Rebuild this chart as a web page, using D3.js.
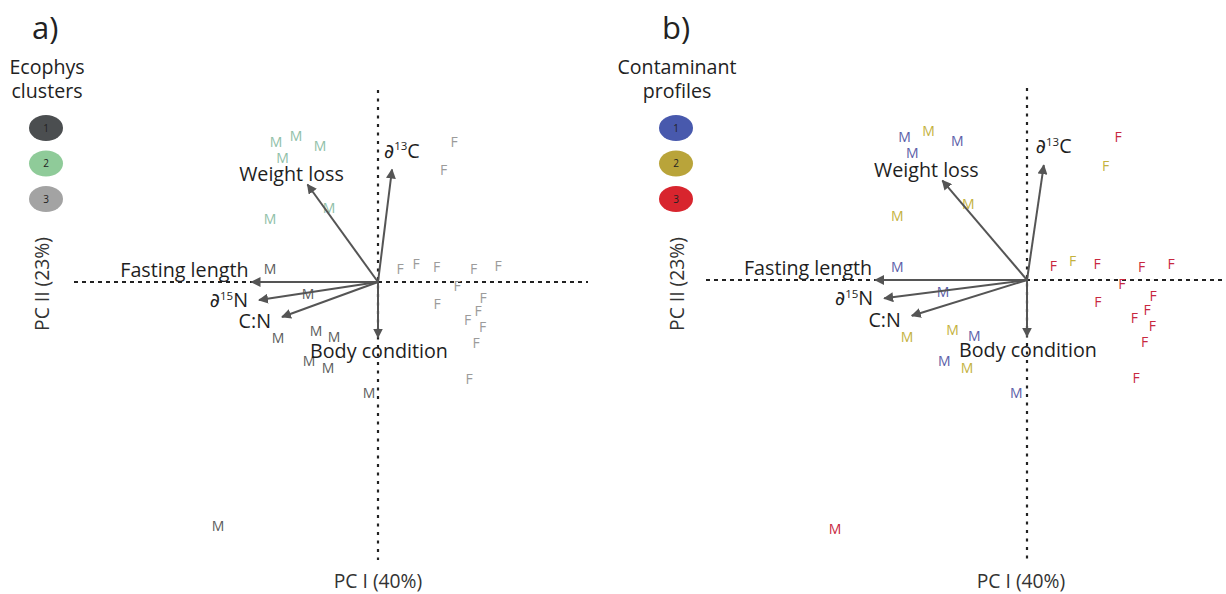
<!DOCTYPE html>
<html>
<head>
<meta charset="utf-8">
<script src="https://cdn.jsdelivr.net/npm/d3@7"></script>
<style>
  html, body { margin: 0; padding: 0; background: #fff; }
  svg { display: block; font-family: "Open Sans", "Noto Sans", sans-serif; }
</style>
</head>
<body>
<svg id="chart" width="1226" height="594"></svg>
<script>
// ---------------- DATA ----------------
// PCA scores (PC I, PC II) for each individual, sex label
const sampleSex = ["M","M","M","M","M","M","M","M","M","M","M","M","M","M","M",
                   "F","F","F","F","F","F","F","F","F","F","F","F","F","F","F"];
const pc1 = [-1.02,-0.82,-0.58,-0.955,-1.08,-0.49,-1.08,-0.70,-1.00,-0.62,-0.44,-0.69,-0.50,-0.09,-1.60,
             0.76,0.655,0.22,0.38,0.585,0.955,1.20,0.79,1.05,0.59,1.00,0.895,1.045,0.98,0.91];
const pc2 = [1.40,1.46,1.36,1.24,0.63,0.745,0.13,-0.12,-0.56,-0.49,-0.55,-0.79,-0.86,-1.11,-2.44,
             1.40,1.12,0.135,0.185,0.155,0.13,0.16,-0.035,-0.155,-0.22,-0.29,-0.375,-0.45,-0.605,-0.965];
// group memberships
const ecophysCluster     = [2,2,2,2,2,2,1,1,1,1,1,1,1,1,1, 3,3,3,3,3,3,3,3,3,3,3,3,3,3,3];
const contaminantProfile = [1,2,1,1,2,2,1,1,2,2,1,1,2,1,3, 3,2,3,2,3,3,3,3,3,3,3,3,3,3,3];

// variable loadings
const varNames = ["d13C","Weight loss","Fasting length","d15N","C:N","Body condition"];
const loadX = [0.14,-0.705,-1.265,-1.19,-0.96,0.0];
const loadY = [1.125,0.975,0.0,-0.18,-0.35,-0.555];

// legend / text
const legendGroups = [1,2,3];
const axisTitleX = "PC I (40%)";
const axisTitleY = "PC II (23%)";

// ---------------- STYLE / LAYOUT ----------------
const clusterLegendColor = {1:"#4b4e50", 2:"#8fcb99", 3:"#a3a3a3"};
const clusterTextColor   = {1:"#5c5c5c", 2:"#8fc0a8", 3:"#9b9b9b"};
const profileLegendColor = {1:"#4859ad", 2:"#b9a43a", 3:"#d8252e"};
const profileTextColor   = {1:"#5b60a8", 2:"#c4b23e", 3:"#c8283f"};

// label placement relative to arrow tip: [dx, dy, anchor]
const labelOffset = {
  "d13C": [-8,-12,"start"],
  "Weight loss": [-16,-4,"middle"],
  "Fasting length": [-3,-5,"end"],
  "d15N": [-11,7,"end"],
  "C:N": [-11,11,"end"],
  "Body condition": [1,20,"middle"]
};

const svg = d3.select("#chart");
const defs = svg.append("defs");
defs.append("marker")
  .attr("id","arr").attr("viewBox","0 0 10 10").attr("refX",9).attr("refY",5)
  .attr("markerWidth",5).attr("markerHeight",5).attr("orient","auto")
  .append("path").attr("d","M0,0L10,5L0,10z").attr("fill","#555");

const panels = [
  { title:"a)", titleX:32, legendTitle:["Ecophys","clusters"], legendX:47,
    groups: ecophysCluster, legendColor: clusterLegendColor, textColor: clusterTextColor,
    x: d3.scaleLinear().domain([-3.04, 2.10]).range([74, 588]),
    y: d3.scaleLinear().domain([1.92, -2.78]).range([90, 560]),
    pcYx: 43, pcXx: 378 },
  { title:"b)", titleX:662, legendTitle:["Contaminant","profiles"], legendX:677,
    groups: contaminantProfile, legendColor: profileLegendColor, textColor: profileTextColor,
    x: d3.scaleLinear().domain([-2.675, 1.625]).range([706, 1222]),
    y: d3.scaleLinear().domain([1.882, -2.745]).range([88, 560]),
    pcYx: 678, pcXx: 1021 }
];

function varLabel(sel, name) {
  if (name === "d13C" || name === "d15N") {
    const sup = name === "d13C" ? "13" : "15";
    const base = name === "d13C" ? "C" : "N";
    sel.append("tspan").attr("font-family", "DejaVu Sans").text("\u2202");
    sel.append("tspan").attr("font-size", 11.5).attr("dy", -7.5).text(sup);
    sel.append("tspan").attr("dy", 7.5).text(base);
  } else {
    sel.text(name);
  }
}

panels.forEach(p => {
  const g = svg.append("g");
  const x = p.x, y = p.y;
  const x0 = x(0), y0 = y(0);

  // title
  g.append("text").attr("x", p.titleX).attr("y", 39).attr("font-size", 31)
    .attr("fill", "#222").text(p.title);

  // legend title
  p.legendTitle.forEach((t, i) => {
    g.append("text").attr("x", p.legendX).attr("y", 74 + i * 24)
      .attr("text-anchor", "middle").attr("font-size", 19.6).attr("fill", "#222").text(t);
  });
  // legend ellipses
  const lg = g.selectAll("g.leg").data(legendGroups).join("g");
  lg.append("ellipse").attr("cx", p.legendX - 1).attr("cy", (d, i) => 128 + i * 35.5)
    .attr("rx", 17).attr("ry", 13).attr("fill", d => p.legendColor[d]);
  lg.append("text").attr("x", p.legendX - 1).attr("y", (d, i) => 128 + i * 35.5 + 3.5)
    .attr("text-anchor", "middle").attr("font-size", 10).attr("fill", "#222").text(d => d);

  // axes lines through origin
  g.append("line").attr("x1", x.range()[0]).attr("x2", x.range()[1]).attr("y1", y0).attr("y2", y0)
    .attr("stroke", "#222").attr("stroke-width", 2).attr("stroke-dasharray", "4,4");
  g.append("line").attr("x1", x0).attr("x2", x0).attr("y1", y.range()[0]).attr("y2", y.range()[1])
    .attr("stroke", "#222").attr("stroke-width", 2.2).attr("stroke-dasharray", "3,5.5");

  // axis titles
  g.append("text").attr("x", p.pcXx).attr("y", 588).attr("text-anchor", "middle")
    .attr("font-size", 19.3).attr("fill", "#333").text(axisTitleX);
  g.append("text").attr("transform", `translate(${p.pcYx + 6},284) rotate(-90)`)
    .attr("text-anchor", "middle").attr("font-size", 19.3).attr("fill", "#333").text(axisTitleY);

  // points (sex letters)
  g.selectAll("text.pt").data(pc1.map((v, i) => i)).join("text")
    .attr("class", "pt")
    .attr("x", i => x(pc1[i])).attr("y", i => y(pc2[i]) + 5)
    .attr("text-anchor", "middle").attr("font-size", 14)
    .attr("fill", i => p.textColor[p.groups[i]])
    .text(i => sampleSex[i]);

  // loading arrows
  g.selectAll("line.ld").data(varNames.map((v, i) => i)).join("line")
    .attr("class", "ld")
    .attr("x1", x0).attr("y1", y0)
    .attr("x2", i => x(loadX[i])).attr("y2", i => y(loadY[i]))
    .attr("stroke", "#555").attr("stroke-width", 2).attr("marker-end", "url(#arr)");

  // loading labels
  varNames.forEach((n, i) => {
    const o = labelOffset[n];
    const t = g.append("text").attr("x", x(loadX[i]) + o[0]).attr("y", y(loadY[i]) + o[1])
      .attr("text-anchor", o[2]).attr("font-size", 19.7).attr("fill", "#1e1e1e");
    varLabel(t, n);
  });
});
</script>
</body>
</html>
